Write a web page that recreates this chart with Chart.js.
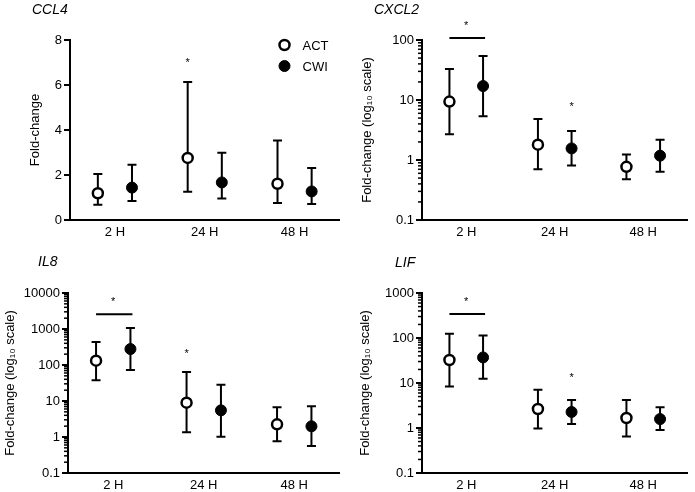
<!DOCTYPE html>
<html>
<head>
<meta charset="utf-8">
<script src="https://cdn.jsdelivr.net/npm/chart.js@4/dist/chart.umd.min.js"></script>
<style>
  body { margin: 0; background: #fff; }
  #wrap { position: relative; width: 695px; height: 492px; }
  #wrap canvas { position: absolute; }
</style>
</head>
<body>
<div id="wrap">
  <canvas id="c1" width="347" height="246" style="left:0;top:0"></canvas>
  <canvas id="c2" width="348" height="246" style="left:347px;top:0"></canvas>
  <canvas id="c3" width="347" height="246" style="left:0;top:246px"></canvas>
  <canvas id="c4" width="348" height="246" style="left:347px;top:246px"></canvas>
</div>
<script>
'use strict';
// time points
let categories = ['2 H', '24 H', '48 H'];
let seriesNames = ['ACT', 'CWI'];

// CCL4 (linear)
let ccl4Act = [1.19, 2.76, 1.61];
let ccl4ActLo = [0.68, 1.26, 0.76];
let ccl4ActHi = [2.04, 6.13, 3.53];
let ccl4Cwi = [1.44, 1.67, 1.27];
let ccl4CwiLo = [0.84, 0.96, 0.71];
let ccl4CwiHi = [2.46, 2.99, 2.31];
let ccl4Ticks = [0, 2, 4, 6, 8];

// CXCL2 (log)
let cxcl2Act = [9.4, 1.80, 0.77];
let cxcl2ActLo = [2.68, 0.70, 0.48];
let cxcl2ActHi = [32.9, 4.82, 1.23];
let cxcl2Cwi = [17.1, 1.56, 1.18];
let cxcl2CwiLo = [5.35, 0.81, 0.64];
let cxcl2CwiHi = [54, 3.04, 2.18];
let cxcl2Ticks = [0.1, 1, 10, 100];

// IL8 (log)
let il8Act = [132, 9.0, 2.25];
let il8ActLo = [38, 1.35, 0.76];
let il8ActHi = [435, 64, 6.67];
let il8Cwi = [278, 5.5, 1.98];
let il8CwiLo = [73, 1.02, 0.56];
let il8CwiHi = [1066, 28.4, 7.1];
let il8Ticks = [0.1, 1, 10, 100, 1000, 10000];

// LIF (log)
let lifAct = [32.5, 2.64, 1.67];
let lifActLo = [8.4, 0.98, 0.65];
let lifActHi = [125, 7.1, 4.19];
let lifCwi = [37, 2.27, 1.58];
let lifCwiLo = [12.5, 1.23, 0.90];
let lifCwiHi = [113, 4.19, 2.88];
let lifTicks = [0.1, 1, 10, 100, 1000];

// significance: [category, series (-1 = bar over both), y value]
let ccl4Stars = [[1, 0, 7.1]];
let cxcl2Stars = [[0, -1, 190], [1, 1, 8.6]];
let il8Stars = [[0, -1, 6800], [1, 0, 250]];
let lifStars = [[0, -1, 736], [1, 1, 14.8]];
let cxcl2Bars = [[0, 108]];
let il8Bars = [[0, 2550]];
let lifBars = [[0, 341]];

let OFF = 0.19;
let FONT = '"Liberation Sans", Arial, sans-serif';

function pts(vals, side) {
  return vals.map((v, i) => ({ x: i + side * OFF, y: v }));
}

function makeChart(id, p) {
  let panelPlugin = {
    id: 'panel' + id,
    beforeDatasetsDraw(chart) {
      let ctx = chart.ctx;
      let xs = chart.scales.x, ys = chart.scales.y;
      ctx.save();
      ctx.strokeStyle = '#000';
      ctx.lineWidth = 2;
      // error bars
      chart.data.datasets.forEach(ds => {
        ds.data.forEach((pt, i) => {
          let px = xs.getPixelForValue(pt.x);
          let t = ys.getPixelForValue(ds.hi[i]);
          let b = ys.getPixelForValue(ds.lo[i]);
          ctx.beginPath();
          ctx.moveTo(px, t); ctx.lineTo(px, b);
          ctx.moveTo(px - 4.5, t); ctx.lineTo(px + 4.5, t);
          ctx.moveTo(px - 4.5, b); ctx.lineTo(px + 4.5, b);
          ctx.stroke();
        });
      });
      ctx.restore();
    },
    afterDraw(chart) {
      let ctx = chart.ctx;
      let xs = chart.scales.x, ys = chart.scales.y;
      let area = chart.chartArea;
      ctx.save();
      ctx.fillStyle = '#000';
      ctx.strokeStyle = '#000';
      // gene title
      ctx.font = 'italic 14px ' + FONT;
      ctx.textBaseline = 'middle';
      ctx.textAlign = 'left';
      ctx.fillText(p.title, p.titleX, p.titleY);
      // minor log ticks
      if (p.log) {
        ctx.lineWidth = 1.5;
        let min = p.ticks[0], max = p.ticks[p.ticks.length - 1];
        for (let d = min; d < max; d *= 10) {
          for (let k = 2; k <= 9; k++) {
            let py = ys.getPixelForValue(d * k);
            ctx.beginPath();
            ctx.moveTo(area.left - 4, py); ctx.lineTo(area.left, py);
            ctx.stroke();
          }
        }
      }
      // significance bars
      ctx.lineWidth = 2;
      (p.bars || []).forEach(b => {
        let py = ys.getPixelForValue(b[1]);
        ctx.beginPath();
        ctx.moveTo(xs.getPixelForValue(b[0] - OFF), py);
        ctx.lineTo(xs.getPixelForValue(b[0] + OFF) + 2, py);
        ctx.stroke();
      });
      // asterisks
      ctx.font = '11px ' + FONT;
      ctx.textAlign = 'center';
      p.stars.forEach(s => {
        let xv = s[1] < 0 ? s[0] : s[0] + (s[1] === 0 ? -OFF : OFF);
        ctx.fillText('*', xs.getPixelForValue(xv), ys.getPixelForValue(s[2]) + 3);
      });
      // legend
      if (p.legend) {
        ctx.font = '13px ' + FONT;
        ctx.textAlign = 'left';
        chart.data.datasets.forEach((ds, i) => {
          let cy = area.top + 5 + i * 21;
          let cx = area.right - 55;
          ctx.beginPath();
          ctx.arc(cx, cy, ds.pointRadius, 0, Math.PI * 2);
          ctx.fillStyle = ds.backgroundColor;
          ctx.fill();
          ctx.lineWidth = ds.borderWidth;
          ctx.stroke();
          ctx.fillStyle = '#000';
          ctx.fillText(ds.label, cx + 18, cy + 1);
        });
      }
      ctx.restore();
    }
  };

  let yScale = {
    type: p.log ? 'logarithmic' : 'linear',
    min: p.ticks[0],
    max: p.ticks[p.ticks.length - 1],
    afterBuildTicks: s => { s.ticks = p.ticks.map(v => ({ value: v })); },
    afterFit: s => { s.width = p.yWidth; },
    ticks: {
      color: '#000',
      font: { family: FONT, size: 13 },
      padding: 2,
      callback: v => String(v)
    },
    grid: { display: true, drawOnChartArea: false, drawTicks: true, tickLength: 6, color: '#000', lineWidth: 2, tickColor: '#000', tickWidth: 2 },
    border: { display: true, color: '#000', width: 2 },
    title: {
      display: true,
      text: p.log ? 'Fold-change (log\u2081\u2080 scale)' : 'Fold-change',
      color: '#000',
      font: { family: FONT, size: 13 },
      padding: { top: p.titlePad, bottom: 0 }
    }
  };

  return new Chart(document.getElementById(id), {
    type: 'scatter',
    data: {
      datasets: [
        {
          label: seriesNames[0], data: pts(p.act, -1), lo: p.actLo, hi: p.actHi,
          pointRadius: 5, pointHoverRadius: 5, borderWidth: 2.5,
          backgroundColor: '#fff', borderColor: '#000'
        },
        {
          label: seriesNames[1], data: pts(p.cwi, 1), lo: p.cwiLo, hi: p.cwiHi,
          pointRadius: 5.5, pointHoverRadius: 5.5, borderWidth: 1,
          backgroundColor: '#000', borderColor: '#000'
        }
      ]
    },
    options: {
      responsive: false,
      animation: false,
      layout: { padding: p.pad },
      plugins: { legend: { display: false }, tooltip: { enabled: false } },
      scales: {
        x: {
          type: 'linear',
          min: -0.5,
          max: 2.5,
          afterBuildTicks: s => { s.ticks = categories.map((c, i) => ({ value: i })); },
          afterFit: s => { s.height = p.xHeight; },
          ticks: {
            color: '#000',
            font: { family: FONT, size: 13 },
            padding: 5,
            callback: v => categories[v]
          },
          grid: { display: false, drawTicks: false },
          border: { display: true, color: '#000', width: 2 }
        },
        y: yScale
      }
    },
    plugins: [panelPlugin]
  });
}

makeChart('c1', {
  title: 'CCL4', titleX: 32, titleY: 10, log: false, ticks: ccl4Ticks,
  act: ccl4Act, actLo: ccl4ActLo, actHi: ccl4ActHi,
  cwi: ccl4Cwi, cwiLo: ccl4CwiLo, cwiHi: ccl4CwiHi,
  stars: ccl4Stars, legend: true,
  pad: { left: 0, right: 5, top: 40, bottom: 0 }, yWidth: 70, xHeight: 26, titlePad: 28
});
makeChart('c2', {
  title: 'CXCL2', titleX: 27, titleY: 10, log: true, ticks: cxcl2Ticks,
  act: cxcl2Act, actLo: cxcl2ActLo, actHi: cxcl2ActHi,
  cwi: cxcl2Cwi, cwiLo: cxcl2CwiLo, cwiHi: cxcl2CwiHi,
  stars: cxcl2Stars, bars: cxcl2Bars,
  pad: { left: 0, right: 3, top: 40, bottom: 0 }, yWidth: 75, xHeight: 26, titlePad: 13
});
makeChart('c3', {
  title: 'IL8', titleX: 38, titleY: 16, log: true, ticks: il8Ticks,
  act: il8Act, actLo: il8ActLo, actHi: il8ActHi,
  cwi: il8Cwi, cwiLo: il8CwiLo, cwiHi: il8CwiHi,
  stars: il8Stars, bars: il8Bars,
  pad: { left: 0, right: 5, top: 47, bottom: 0 }, yWidth: 68, xHeight: 19, titlePad: 3
});
makeChart('c4', {
  title: 'LIF', titleX: 48, titleY: 17, log: true, ticks: lifTicks,
  act: lifAct, actLo: lifActLo, actHi: lifActHi,
  cwi: lifCwi, cwiLo: lifCwiLo, cwiHi: lifCwiHi,
  stars: lifStars, bars: lifBars,
  pad: { left: 0, right: 3, top: 47, bottom: 0 }, yWidth: 75, xHeight: 19, titlePad: 11
});
</script>
</body>
</html>
